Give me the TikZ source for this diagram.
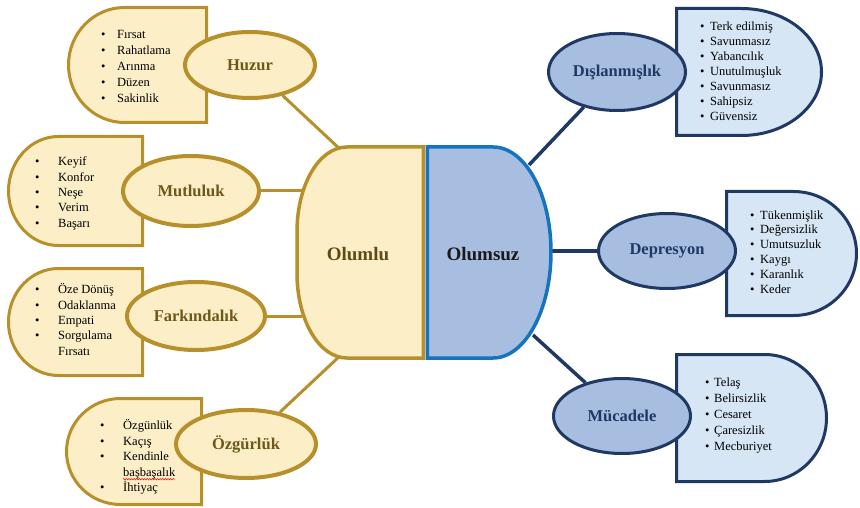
\documentclass[tikz,border=0pt]{standalone}
\usepackage{fontspec}
\setmainfont{Liberation Serif}
\usetikzlibrary{shapes.geometric,decorations.pathmorphing}
\definecolor{gold}{HTML}{B8902B}
\definecolor{cream}{HTML}{FCEFC7}
\definecolor{navy}{HTML}{1F3864}
\definecolor{steel}{HTML}{A8BEE0}
\definecolor{pale}{HTML}{D6E6F5}
\definecolor{brightblue}{HTML}{1673BE}
\definecolor{olivetext}{HTML}{6E5818}
\definecolor{olumlutext}{HTML}{5E4A14}
\pgfdeclarelayer{background}
\pgfsetlayers{background,main}
% left-rounded box: style, xl, xr, yt, yb, arc width
\newcommand\lshape[6]{%
  \pgfmathsetmacro\shm{(#4+#5)/2}%
  \pgfmathsetmacro\shr{(#5-#4)/2}%
  \draw[#1] (#3,#4) -- ({#2+#6},#4) .. controls ({#2+0.4477*#6},#4) and (#2,{\shm-0.5523*\shr}) .. (#2,\shm)
    .. controls (#2,{\shm+0.5523*\shr}) and ({#2+0.4477*#6},#5) .. ({#2+#6},#5) -- (#3,#5) -- cycle;}
% right-rounded box
\newcommand\rshape[6]{%
  \pgfmathsetmacro\shm{(#4+#5)/2}%
  \pgfmathsetmacro\shr{(#5-#4)/2}%
  \draw[#1] (#2,#4) -- ({#3-#6},#4) .. controls ({#3-0.4477*#6},#4) and (#3,{\shm-0.5523*\shr}) .. (#3,\shm)
    .. controls (#3,{\shm+0.5523*\shr}) and ({#3-0.4477*#6},#5) .. ({#3-#6},#5) -- (#2,#5) -- cycle;}
\tikzset{
  posell/.style={ellipse, draw=gold, line width=4pt, fill=cream, inner sep=0pt, text=olivetext,
    font=\fontsize{16.5}{18}\selectfont\bfseries},
  negell/.style={ellipse, draw=navy, line width=3pt, fill=steel, inner sep=0pt, text=navy,
    font=\fontsize{16.5}{18}\selectfont\bfseries},
  posbox/.style={draw=gold, fill=cream, line width=3pt, line join=miter},
  negbox/.style={draw=navy, fill=pale, line width=3pt, line join=miter},
  posline/.style={draw=gold, line width=3pt},
  negline/.style={draw=navy, line width=3.5pt},
  item/.style={anchor=base west, inner sep=0pt, font=\fontsize{12.5}{15}\selectfont},
  biglabel/.style={inner sep=0pt, font=\fontsize{19}{21}\selectfont\bfseries}
}
\begin{document}
\begin{tikzpicture}[x=1pt,y=-1pt]
\begin{pgfonlayer}{background}
\fill[white] (0,0) rectangle (860,508);
\end{pgfonlayer}
\path[use as bounding box] (0,0) rectangle (860,508);

% ---- list boxes ----
\lshape{posbox}{68.5}{206.5}{7.5}{122.5}{56}
\lshape{posbox}{8.5}{142.5}{136.5}{245.5}{50}
\lshape{posbox}{8.5}{142.5}{268.5}{375.5}{50}
\lshape{posbox}{66.5}{201.5}{398.5}{504.5}{54}
\rshape{negbox}{676.5}{821.5}{8.5}{135.5}{80}
\rshape{negbox}{726.5}{856.5}{191.5}{315.5}{63}
\rshape{negbox}{676.5}{826.5}{354.5}{481.5}{62}

% ---- list texts ----
\foreach \t [count=\i from 0] in {Fırsat,Rahatlama,Arınma,Düzen,Sakinlik}
  \node[item] (hz\i) at (101,{39+15.8*\i}) {\makebox[16pt][l]{\textbullet}\t};
\foreach \t [count=\i from 0] in {Keyif,Konfor,Neşe,Verim,Başarı}
  \node[item] (mt\i) at (35,{165.7+15.4*\i}) {\makebox[23pt][l]{\textbullet}\t};
\foreach \t [count=\i from 0] in {Öze Dönüş,Odaklanma,Empati,Sorgulama}
  \node[item] (fk\i) at (35,{293.8+15.3*\i}) {\makebox[23pt][l]{\textbullet}\t};
\node[item] (fk4) at (35,{293.8+15.3*4}) {\makebox[23pt][l]{}Fırsatı};
\node[item] (oz0) at (100,429.8) {\makebox[23pt][l]{\textbullet}Özgünlük};
\node[item] (oz1) at (100,445.2) {\makebox[23pt][l]{\textbullet}Kaçış};
\node[item] (oz2) at (100,460.6) {\makebox[23pt][l]{\textbullet}Kendinle};
\node[item] (oz3) at (100,476.0) {\makebox[23pt][l]{}başbaşalık};
\node[item] (oz4) at (100,491.4) {\makebox[23pt][l]{\textbullet}İhtiyaç};
\draw[red, line width=0.5pt, decorate, decoration={snake, amplitude=0.7pt, segment length=2.6pt}]
  (123,479.2) -- (175,479.2);
\foreach \t [count=\i from 0] in {Terk edilmiş,Savunmasız,Yabancılık,Unutulmuşluk,Savunmasız,Sahipsiz,Güvensiz}
  \node[item] (ds\i) at (700,{30.7+15*\i}) {\makebox[10pt][l]{\textbullet}\t};
\foreach \t [count=\i from 0] in {Tükenmişlik,Değersizlik,Umutsuzluk,Kaygı,Karanlık,Keder}
  \node[item] (dp\i) at (750,{219+14.9*\i}) {\makebox[10pt][l]{\textbullet}\t};
\foreach \t [count=\i from 0] in {Telaş,Belirsizlik,Cesaret,Çaresizlik,Mecburiyet}
  \node[item] (mc\i) at (705,{386.7+16*\i}) {\makebox[9pt][l]{\textbullet}\t};

% ---- central shape ----
\draw[draw=gold, fill=cream, line width=3.5pt]
  (423.3,147) -- (347,147) .. controls (319,147) and (297,185) .. (297,232) -- (297,273)
  .. controls (297,320) and (319,358) .. (347,358) -- (423.3,358) -- cycle;
\draw[draw=brightblue, fill=steel, line width=3.5pt]
  (427.3,147) -- (493,147) .. controls (525,147) and (551,194) .. (551,252)
  .. controls (551,310) and (525,358) .. (493,358) -- (427.3,358) -- cycle;
\node[biglabel, text=olumlutext] (olumlu) at (358,254) {Olumlu};
\node[biglabel, text=black!90] (olumsuz) at (483,254) {Olumsuz};

\coordinate (cHuzur) at (342,151);
\coordinate (cMut) at (302,191);
\coordinate (cFark) at (302,316);
\coordinate (cOzg) at (342,354);
\coordinate (cDis) at (529,165);
\coordinate (cDep) at (549,251);
\coordinate (cMuc) at (533,335);

% ---- theme ellipses ----
\node[posell, minimum width=130pt, minimum height=66pt] (huzur) at (250,65) {Huzur};
\node[posell, minimum width=136pt, minimum height=70pt] (mutluluk) at (191,191) {Mutluluk};
\node[posell, minimum width=138pt, minimum height=68pt] (farkindalik) at (196,316) {Farkındalık};
\node[posell, minimum width=140pt, minimum height=68pt] (ozgurluk) at (246,444) {Özgürlük};
\node[negell, minimum width=137pt, minimum height=77pt] (dislanmislik) at (617,72) {Dışlanmışlık};
\node[negell, minimum width=137pt, minimum height=75pt] (depresyon) at (667,251) {Depresyon};
\node[negell, minimum width=137pt, minimum height=75pt] (mucadele) at (622,416) {Mücadele};

% ---- connectors ----
\begin{pgfonlayer}{background}
\draw[posline] (huzur) -- (cHuzur);
\draw[posline] (mutluluk) -- (cMut);
\draw[posline] (farkindalik) -- (cFark);
\draw[posline] (ozgurluk) -- (cOzg);
\draw[negline] (dislanmislik) -- (cDis);
\draw[negline] (depresyon) -- (cDep);
\draw[negline] (mucadele) -- (cMuc);
\end{pgfonlayer}
\end{tikzpicture}
\end{document}
